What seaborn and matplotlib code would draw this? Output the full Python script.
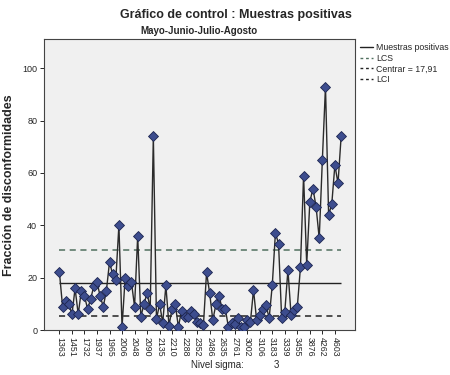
import numpy as np
import pandas as pd
import matplotlib
matplotlib.use("Agg")
import matplotlib.pyplot as plt
import seaborn as sns
from matplotlib.lines import Line2D

# Gráfico de control (p) - Muestras positivas, Mayo-Junio-Julio-Agosto

muestras = [22, 8.9, 11.2, 10, 6, 15.9, 6, 15, 13, 8,
            12, 16.8, 18.2, 13, 8.9, 15, 26, 21.2, 19, 40,
            1.2, 20, 16.8, 18.3, 8.9, 36, 5, 9.9, 14.1, 8.2,
            74, 4.1, 10, 2.7, 17, 1.7, 8.2, 9.9, 1.2, 7.3,
            5, 5, 7.3, 6, 3, 2.5, 1.8, 22, 14, 3.8,
            9.8, 13, 8, 8, 1, 2.5, 2.2, 4.5, 1, 1,
            3.8, 2.9, 15.3, 3.8, 5.7, 7.9, 9.5, 4.5, 17.2, 37,
            33, 4.5, 7, 23, 5.7, 7.6, 8.9, 24, 59, 25,
            49, 54, 47, 35, 65, 93, 44, 48, 63, 56, 74]

etiquetas_x = ["1363", "1451", "1732", "1937", "1965", "2006", "2048", "2090",
               "2135", "2210", "2288", "2352", "2486", "2635", "2761", "3002",
               "3106", "3183", "3339", "3455", "3876", "4262", "4603"]

centro = 17.91
lcs = 30.6
lci = 5.2
sigma = 3

df = pd.DataFrame({"idx": np.arange(len(muestras)), "p": muestras})

sns.set_style("white")
plt.rcParams["font.family"] = ["Liberation Sans", "DejaVu Sans"]

fig = plt.figure(figsize=(4.5, 3.75), dpi=100)
ax = fig.add_axes([0.098, 0.12, 0.69, 0.775])
ax.set_facecolor("#f0f0f0")

x0, x1 = df["idx"].iloc[0], df["idx"].iloc[-1]
ax.hlines(lcs, x0, x1, colors="#50705f", linestyles=(0, (4, 3)), linewidth=1.1, zorder=1)
ax.hlines(centro, x0, x1, colors="#222222", linewidth=1.0, zorder=1)
ax.hlines(lci, x0, x1, colors="#222222", linestyles=(0, (4, 3)), linewidth=1.1, zorder=1)

sns.lineplot(data=df, x="idx", y="p", ax=ax, color="#2b2b2b", linewidth=1.0,
             marker="D", markersize=5.3, markerfacecolor="#3d4d8e",
             markeredgecolor="#1c2550", markeredgewidth=0.6, zorder=3)

ax.set_xlim(-4.9, 94.3)
ax.set_ylim(0, 111)
ax.set_yticks([0, 20, 40, 60, 80, 100])
ax.set_xticks(df["idx"].values[::4])
ax.set_xticklabels(etiquetas_x, rotation=-90, fontsize=6.3)
ax.tick_params(axis="y", labelsize=6.5, length=3, width=0.7, direction="out", left=True, pad=2)
ax.tick_params(axis="x", length=3, width=0.7, direction="out", bottom=True, pad=2)
ax.set_xlabel("")
ax.set_ylabel("Fracción de disconformidades", fontsize=9, fontweight="bold", labelpad=5)
for s in ax.spines.values():
    s.set_color("#444444")
    s.set_linewidth(0.8)

fig.text(0.525, 0.975, "Gráfico de control : Muestras positivas", ha="center", va="top",
         fontsize=9, fontweight="bold")
ax.set_title("Mayo-Junio-Julio-Agosto", fontsize=7, fontweight="bold", pad=4)

fig.text(0.482, 0.027, "Nivel sigma:", ha="center", va="center", fontsize=7)
fig.text(0.615, 0.027, str(sigma), ha="center", va="center", fontsize=7)

handles = [
    Line2D([], [], color="#222222", linewidth=1.0),
    Line2D([], [], color="#50705f", linewidth=1.0, linestyle=(0, (2, 2))),
    Line2D([], [], color="#222222", linewidth=1.0, linestyle=(0, (2, 2))),
    Line2D([], [], color="#222222", linewidth=1.0, linestyle=(0, (2, 2))),
]
labels = ["Muestras positivas", "LCS", f"Centrar = {centro:.2f}".replace(".", ","), "LCI"]
ax.legend(handles, labels, loc="upper left", bbox_to_anchor=(1.005, 1.0), frameon=False,
          fontsize=6.3, handlelength=1.5, handletextpad=0.4, labelspacing=0.2,
          borderaxespad=0.2, borderpad=0.2)

plt.savefig("out.png", dpi=100)
